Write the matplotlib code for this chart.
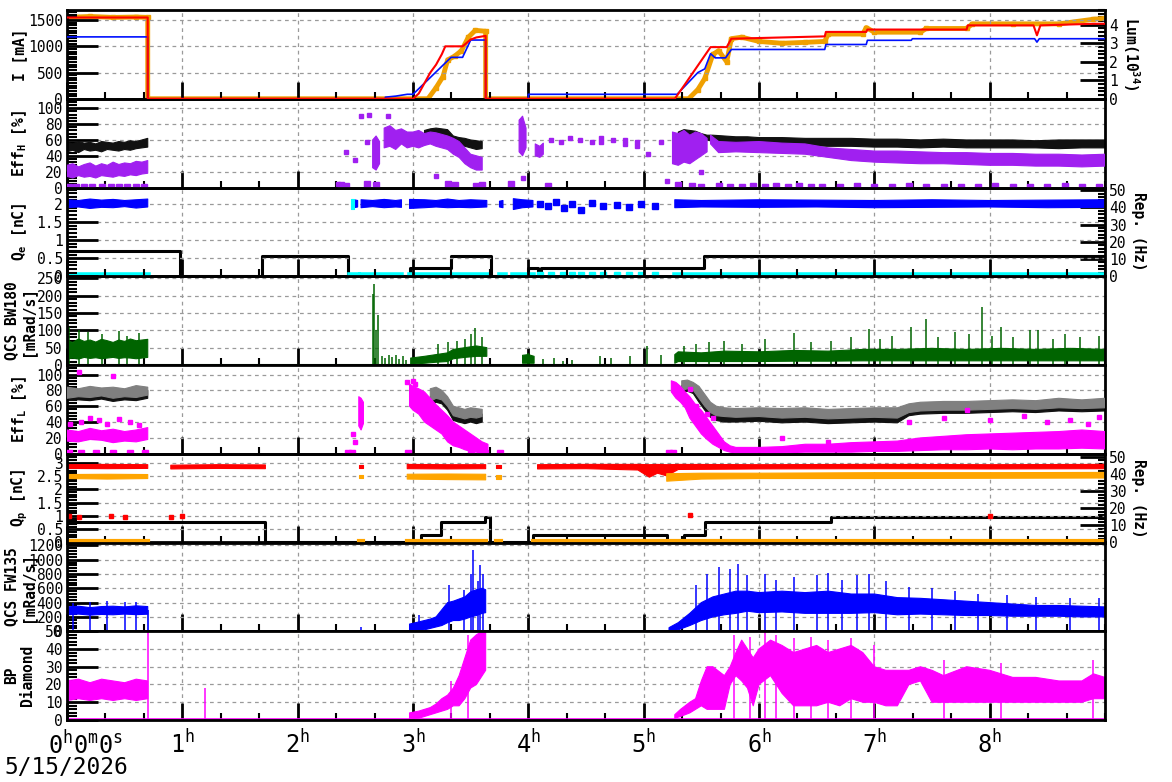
import numpy as np
import matplotlib
matplotlib.use("Agg")
from matplotlib import pyplot as plt
from matplotlib.ticker import AutoMinorLocator, MultipleLocator

nan = np.nan

plt.rcParams['font.family'] = 'DejaVu Sans Mono'
plt.rcParams['mathtext.fontset'] = 'custom'
plt.rcParams['mathtext.rm'] = 'DejaVu Sans Mono'
plt.rcParams['mathtext.it'] = 'DejaVu Sans Mono'
plt.rcParams['mathtext.bf'] = 'DejaVu Sans Mono:bold'

# ---------------- data (time in hours) ----------------
# panel 1 : beam currents [mA] and luminosity [1e34]
ler_t = [0, 0.70, 0.70, 3.0, 3.05, 3.1, 3.15, 3.2, 3.25, 3.28, 3.43, 3.5, 3.55, 3.63, 3.63,
         5.27, 5.35, 5.45, 5.58, 5.72, 5.76, 6.57, 6.58, 6.93, 6.94, 7.8, 7.81, 8.38, 8.41, 8.44, 8.9, 9.0]
ler_v = [1550, 1550, 0, 0, 100, 300, 500, 650, 850, 1000, 1000, 1130, 1170, 1200, 0,
         0, 250, 570, 985, 985, 1145, 1190, 1275, 1275, 1320, 1320, 1400, 1400, 1210, 1400, 1430, 1430]
her_t = [0, 0.70, 0.70, 2.76, 2.76, 2.85, 2.95, 3.0, 3.33, 3.43, 3.5, 3.63, 3.63, 4.0, 4.0,
         5.29, 5.47, 5.53, 5.58, 5.62, 5.71, 5.76, 6.57, 6.58, 6.93, 6.94, 7.32, 7.33, 8.39, 8.41, 8.43, 9.0]
her_v = [1180, 1180, 0, 0, 30, 50, 85, 85, 790, 790, 1120, 1120, 0, 0, 85,
         85, 500, 570, 860, 780, 780, 940, 940, 1035, 1035, 1115, 1115, 1145, 1145, 1080, 1145, 1145]
lum_t = [0, 0.2, 0.4, 0.6, 0.70, 0.70, 3.13, 3.2, 3.26, 3.3, 3.36, 3.42, 3.48, 3.54, 3.63, 3.63,
         5.39, 5.47, 5.53, 5.6, 5.65, 5.72, 5.76, 5.85, 6.0, 6.2, 6.4, 6.57, 6.6, 6.9, 6.93, 7.0,
         7.4, 7.45, 7.8, 7.85, 8.2, 8.6, 8.9, 9.0]
lum_v = [4.4, 4.45, 4.4, 4.42, 4.4, 0, 0, 0.6, 1.2, 2.1, 2.3, 2.6, 3.33, 3.7, 3.65, 0,
         0, 0.5, 1.1, 2.4, 2.6, 2.0, 3.25, 3.33, 3.1, 3.0, 3.05, 3.1, 3.5, 3.5, 3.85, 3.6,
         3.6, 3.8, 3.8, 4.05, 4.05, 4.05, 4.3, 4.35]

# panel 2 : Eff_H [%]
effh_blk_t = [0, 0.05, 0.1, 0.15, 0.2, 0.25, 0.3, 0.35, 0.4, 0.45, 0.5, 0.55, 0.6, 0.65, 0.7, nan,
              3.1, 3.15, 3.2, 3.25, 3.3, 3.35, 3.4, 3.45, 3.5, 3.55, 3.6, nan,
              5.3, 5.35, 5.4, 5.45, 5.5, 5.55, 5.6, 5.7, 5.8, 5.9, 6.0,
              6.2, 6.4, 6.6, 6.8, 7.0, 7.2, 7.4, 7.6, 7.8, 8.0, 8.2, 8.4, 8.6, 8.8, 9.0]
effh_blk_lo = [45, 47, 44, 48, 46, 47, 45, 48, 47, 46, 48, 47, 49, 50, 51, nan,
               62, 64, 65, 63, 62, 55, 53, 52, 50, 48, 49, nan,
               62, 65, 64, 66, 62, 60, 58, 56, 55, 56, 55,
               54, 53, 52, 52, 51, 51, 50, 51, 50, 50, 50, 50, 49, 50, 50]
effh_blk_hi = [57, 55, 58, 56, 57, 55, 58, 57, 56, 58, 57, 59, 58, 60, 62, nan,
               72, 74, 75, 74, 73, 65, 63, 62, 60, 59, 58, nan,
               70, 73, 72, 71, 68, 66, 66, 65, 64, 64, 63,
               63, 62, 62, 62, 61, 61, 60, 61, 60, 60, 60, 59, 60, 60, 60]
effh_pur_t = [0, 0.05, 0.1, 0.15, 0.2, 0.25, 0.3, 0.35, 0.4, 0.45, 0.5, 0.55, 0.6, 0.65, 0.7, nan,
              2.65, 2.68, 2.71, nan,
              2.75, 2.8, 2.85, 2.9, 2.95, 3.0, 3.05, 3.1, 3.15, 3.2, 3.25, 3.3, 3.35, 3.4, 3.45, 3.5, 3.55, 3.6, nan,
              3.92, 3.95, 3.98, nan, 4.06, 4.1, 4.13, nan,
              5.25, 5.3, 5.35, 5.4, 5.45, 5.5, 5.55, nan,
              5.58, 5.65, 5.8, 6.0, 6.2, 6.4, 6.6, 6.8, 7.0, 7.2, 7.4, 7.6, 7.8, 8.0, 8.2, 8.4, 8.6, 8.8, 9.0]
effh_pur_lo = [14, 12, 15, 13, 14, 12, 15, 14, 13, 15, 14, 16, 15, 17, 18, nan,
               25, 22, 30, nan,
               50, 52, 48, 55, 50, 52, 50, 53, 55, 52, 50, 48, 42, 38, 30, 25, 22, 22, nan,
               45, 40, 50, nan, 40, 38, 42, nan,
               30, 28, 32, 30, 35, 40, 45, nan,
               55, 44, 45, 44, 43, 42, 38, 34, 32, 31, 30, 30, 29, 28, 28, 27, 27, 26, 27]
effh_pur_hi = [28, 30, 26, 29, 31, 27, 30, 28, 32, 29, 31, 30, 33, 32, 34, nan,
               60, 65, 58, nan,
               75, 78, 72, 74, 70, 70, 72, 68, 70, 69, 67, 65, 62, 58, 50, 42, 40, 38, nan,
               85, 90, 75, nan, 55, 52, 56, nan,
               70, 68, 72, 66, 70, 68, 62, nan,
               66, 58, 57, 58, 56, 55, 50, 48, 46, 46, 45, 44, 44, 43, 43, 42, 42, 41, 42]
effh_pts_t = [2.35, 2.42, 2.5, 2.55, 2.6, 2.62, 2.78, 4.2, 4.28, 4.36, 4.45, 4.55, 4.63, 4.73,
              4.84, 4.94, 5.04, 5.15, 3.2, 3.95, 5.5, 5.2, 4.63, 4.84, 4.94]
effh_pts_v = [5, 45, 35, 90, 58, 92, 90, 60, 58, 62, 60, 58, 62, 60,
              60, 58, 42, 58, 14, 12, 20, 8, 57, 55, 52]
effh_low_t = [0.02, 0.08, 0.15, 0.22, 0.3, 0.38, 0.45, 0.52, 0.6, 0.67, 2.38, 2.42, 2.6, 2.68,
              3.3, 3.33, 3.36, 3.55, 3.6, 3.85, 4.17, 5.3, 5.42, 5.5, 5.65, 5.75, 5.85, 5.95,
              6.05, 6.15, 6.25, 6.35, 6.45, 6.55, 6.7, 6.85, 7.0, 7.15, 7.3, 7.45, 7.6, 7.75,
              7.9, 8.05, 8.2, 8.35, 8.5, 8.65, 8.8, 8.95]
effh_low_v = [1, 1, 1, 1, 1, 1, 1, 1, 1, 1, 3, 2, 4, 3,
              4, 2, 3, 2, 3, 4, 2, 3, 2, 1, 2, 1, 1, 2,
              1, 2, 1, 2, 1, 1, 1, 2, 1, 1, 2, 1, 1, 1,
              1, 2, 1, 1, 1, 2, 1, 1]

# panel 3 : Q_e [nC] and rep. rate [Hz]
qe_t = [0, 0.1, 0.2, 0.3, 0.4, 0.5, 0.6, 0.7, nan, 2.49, 2.52, nan,
        2.55, 2.65, 2.75, 2.85, 2.9, nan, 2.97, 3.1, 3.2, 3.3, 3.4, 3.5, 3.64, nan,
        3.75, 3.78, nan, 3.87, 3.95, 4.04, nan,
        5.27, 5.5, 6.0, 6.5, 7.0, 7.5, 8.0, 8.5, 9.0]
qe_lo = [1.9, 1.92, 1.88, 1.91, 1.9, 1.93, 1.89, 1.92, nan, 1.9, 1.92, nan,
         1.9, 1.93, 1.9, 1.92, 1.91, nan, 1.88, 1.9, 1.92, 1.9, 1.91, 1.9, 1.92, nan,
         1.92, 1.9, nan, 1.85, 1.9, 1.92, nan,
         1.9, 1.92, 1.91, 1.92, 1.9, 1.91, 1.92, 1.9, 1.91]
qe_hi = [2.12, 2.1, 2.14, 2.11, 2.13, 2.1, 2.12, 2.14, nan, 2.12, 2.1, nan,
         2.12, 2.1, 2.13, 2.1, 2.12, nan, 2.13, 2.12, 2.1, 2.14, 2.1, 2.12, 2.1, nan,
         2.08, 2.1, nan, 2.15, 2.12, 2.1, nan,
         2.12, 2.1, 2.12, 2.11, 2.1, 2.12, 2.1, 2.11, 2.12]
qe_pts_t = [4.1, 4.17, 4.24, 4.31, 4.38, 4.46, 4.55, 4.65, 4.77, 4.87, 4.98, 5.1]
qe_pts_v = [2.0, 1.95, 2.05, 1.9, 2.0, 1.85, 2.02, 1.95, 1.98, 1.92, 2.0, 1.96]
qe_cyan_t = [2.46, 2.49]
qe_cyan_lo = [1.87, 1.87]
qe_cyan_hi = [2.15, 2.15]
cyan_t = [0, 0.7, nan, 2.45, 2.52, nan, 2.55, 2.9, nan, 2.97, 3.64, nan, 3.75, 3.8, nan,
          3.87, 4.04, nan, 5.27, 9.0]
cyan_v = [0.9, 0.9, nan, 0.9, 0.9, nan, 0.9, 0.9, nan, 0.9, 0.9, nan, 0.9, 0.9, nan,
          0.9, 0.9, nan, 0.9, 0.9]
cyan_pts_t = [4.1, 4.2, 4.3, 4.38, 4.46, 4.55, 4.65, 4.77, 4.87, 4.98, 5.1]
cyan_pts_v = [0.9, 0.9, 0.9, 0.9, 0.9, 0.9, 0.9, 0.9, 0.9, 0.9, 0.9]
rep_e_t = [0, 0.98, 0.98, 1.69, 1.69, 2.44, 2.44, 2.97, 2.97, 3.33, 3.33, 3.68, 3.68,
           4.0, 4.0, 4.08, 4.08, 4.11, 4.11, 5.52, 5.52, 9.0]
rep_e_v = [14.5, 14.5, 0.4, 0.4, 11.6, 11.6, 0.4, 0.4, 4.6, 4.6, 12, 12, 0.4,
           0.4, 4.6, 4.6, 0.4, 0.4, 4.6, 4.6, 12, 12]

# panel 4 : QCS BW180 [mRad/s]
bw_t = [0, 0.05, 0.1, 0.15, 0.2, 0.25, 0.3, 0.35, 0.4, 0.45, 0.5, 0.55, 0.6, 0.65, 0.7, nan,
        2.98, 3.1, 3.2, 3.3, 3.35, 3.45, 3.55, 3.64, nan, 3.95, 4.0, 4.05, nan,
        5.27, 5.3, 5.5, 5.7, 6.0, 6.3, 6.6, 6.9, 7.2, 7.5, 7.8, 8.1, 8.4, 8.7, 9.0]
bw_lo = [18, 20, 17, 22, 19, 21, 18, 20, 22, 19, 21, 20, 18, 20, 22, nan,
         2, 5, 8, 10, 18, 22, 25, 25, nan, 5, 5, 5, nan,
         5, 10, 10, 10, 10, 11, 11, 12, 12, 12, 12, 12, 12, 12, 12]
bw_hi = [70, 65, 75, 68, 72, 66, 74, 70, 65, 72, 68, 75, 70, 72, 74, nan,
         20, 25, 30, 35, 45, 50, 55, 50, nan, 28, 30, 25, nan,
         30, 38, 35, 40, 38, 42, 40, 45, 45, 48, 45, 48, 45, 48, 45]
bw_spk_t = [0.02, 0.1, 0.18, 0.3, 0.45, 0.52, 0.62,
            2.65, 2.665, 2.68, 2.70, 2.73, 2.76, 2.79, 2.82, 2.85, 2.88, 2.91, 2.94,
            3.22, 3.3, 3.38, 3.45, 3.5, 3.54, 3.6, 4.0,
            4.13, 4.22, 4.3, 4.38, 4.62, 4.72, 4.88, 5.03, 5.15,
            5.35, 5.45, 5.57, 5.7, 5.85, 6.05, 6.3, 6.45, 6.62, 6.8, 6.95, 7.05, 7.15,
            7.32, 7.45, 7.55, 7.7, 7.82, 7.93, 8.02, 8.1, 8.2, 8.35, 8.42, 8.55, 8.65,
            8.78, 8.95]
bw_spk_v = [110, 100, 95, 90, 98, 85, 92,
            205, 235, 100, 145, 25, 20, 28, 22, 30, 18, 25, 15,
            60, 65, 70, 75, 90, 108, 80, 35,
            18, 20, 12, 15, 25, 20, 25, 55, 30,
            55, 60, 65, 70, 60, 75, 93, 65, 70, 80, 103, 75, 85,
            110, 132, 80, 95, 90, 166, 85, 110, 80, 100, 100, 75, 90,
            80, 85]

# panel 5 : Eff_L [%]
effl_t = [0, 0.1, 0.2, 0.3, 0.4, 0.5, 0.6, 0.7, nan,
          3.15, 3.2, 3.25, 3.3, 3.35, 3.4, 3.45, 3.5, 3.55, 3.6, nan,
          5.33, 5.38, 5.43, 5.48, 5.53, 5.58, 5.63, 5.7, 5.8, 6.0,
          6.2, 6.4, 6.6, 6.8, 7.0, 7.2, 7.3, 7.4, 7.6, 7.8, 8.0, 8.2, 8.4, 8.6, 8.8, 9.0]
effl_gry_lo = [70, 72, 71, 73, 70, 72, 71, 74, nan,
               66, 70, 68, 60, 48, 46, 44, 46, 45, 47, nan,
               80, 82, 80, 70, 60, 52, 48, 47, 46, 47,
               45, 46, 44, 45, 46, 45, 52, 54, 55, 55, 56, 57, 56, 58, 57, 58]
effl_gry_hi = [84, 82, 85, 83, 84, 82, 86, 84, nan,
               82, 84, 80, 72, 60, 58, 56, 58, 57, 56, nan,
               92, 93, 90, 85, 75, 65, 60, 58, 57, 58,
               57, 58, 56, 57, 58, 58, 63, 65, 66, 66, 67, 68, 67, 70, 68, 70]
effl_blk_lo = [67, 68, 67, 69, 66, 68, 67, 70, nan,
               62, 65, 63, 55, 42, 40, 38, 40, 38, 40, nan,
               77, 79, 76, 65, 55, 46, 42, 40, 40, 41,
               39, 40, 38, 39, 40, 39, 48, 50, 51, 51, 52, 53, 52, 54, 53, 54]
effl_blk_hi = [76, 78, 77, 79, 76, 78, 77, 80, nan,
               72, 76, 74, 66, 52, 50, 48, 50, 48, 50, nan,
               86, 88, 84, 75, 65, 54, 50, 48, 48, 49,
               47, 48, 46, 47, 48, 47, 56, 58, 59, 59, 60, 61, 60, 62, 61, 62]
effl_mag_t = [0, 0.1, 0.2, 0.3, 0.4, 0.5, 0.6, 0.7, nan, 2.53, 2.55, 2.57, nan,
              2.97, 3.0, 3.05, 3.1, 3.15, 3.2, 3.25, 3.3, 3.35, 3.4, 3.45, 3.5, 3.55, 3.6, 3.65, nan,
              5.24, 5.28, 5.32, 5.36, 5.4, 5.45, 5.5, 5.55, 5.6, 5.65, 5.7, 5.75, 5.8,
              6.0, 6.2, 6.4, 6.6, 6.8, 7.0, 7.2, 7.4, 7.6, 7.8, 8.0, 8.2, 8.4, 8.6, 8.8, 9.0]
effl_mag_lo = [16, 15, 18, 17, 14, 16, 15, 18, nan, 35, 30, 38, nan,
               60, 55, 50, 40, 35, 30, 25, 15, 10, 8, 5, 3, 2, 2, 2, nan,
               78, 70, 65, 58, 45, 35, 25, 18, 12, 8, 4, 2, 1,
               1, 1, 2, 2, 2, 3, 3, 4, 5, 5, 6, 5, 6, 6, 7, 6]
effl_mag_hi = [30, 28, 32, 29, 31, 28, 30, 33, nan, 72, 70, 65, nan,
               88, 85, 82, 78, 70, 62, 55, 48, 40, 35, 30, 25, 20, 15, 12, nan,
               92, 90, 85, 78, 72, 62, 55, 45, 35, 25, 15, 10, 8,
               8, 9, 12, 12, 14, 15, 16, 20, 22, 24, 25, 26, 27, 28, 30, 28]
effl_pts_t = [0.03, 0.12, 0.2, 0.28, 0.35, 0.45, 0.55, 0.62, 0.1, 0.4, 2.48, 2.5,
              2.95, 3.0, 3.02, 5.4, 5.55, 5.6, 7.3, 7.6, 7.8, 8.0, 8.3, 8.5, 8.7, 8.85,
              6.2, 6.6, 5.45, 8.95]
effl_pts_v = [38, 40, 45, 42, 38, 44, 40, 36, 103, 98, 25, 15,
              90, 92, 88, 82, 50, 45, 40, 45, 55, 42, 48, 40, 42, 38,
              20, 15, 60, 47]
effl_low_t = [0.02, 0.12, 0.25, 0.4, 0.55, 0.68, 2.44, 2.47, 2.96, 3.5, 3.58, 3.62, 3.75, 5.22, 5.25]
effl_low_v = [1, 1, 1, 1, 1, 1, 1, 1, 1, 1, 1, 1, 1, 1, 1]

# panel 6 : Q_p [nC] and rep. rate [Hz]
qp_red_t = [0, 0.35, 0.7, nan, 0.9, 1.3, 1.72, nan, 2.53, 2.57, nan, 2.95, 3.3, 3.63, nan,
            3.72, 3.76, nan, 4.08, 4.5, 4.95, 5.05, 5.12, 5.2, 5.3, 6.0, 7.0, 8.0, 9.0]
qp_red_lo = [2.78, 2.77, 2.78, nan, 2.76, 2.78, 2.77, nan, 2.78, 2.78, nan, 2.77, 2.76, 2.77, nan,
             2.78, 2.78, nan, 2.76, 2.77, 2.72, 2.45, 2.6, 2.5, 2.74, 2.76, 2.77, 2.76, 2.77]
qp_red_hi = [2.92, 2.93, 2.92, nan, 2.9, 2.92, 2.91, nan, 2.92, 2.92, nan, 2.93, 2.92, 2.92, nan,
             2.9, 2.9, nan, 2.92, 2.93, 2.93, 2.92, 2.93, 2.92, 2.93, 2.92, 2.93, 2.92, 2.93]
qp_org_t = [0, 0.35, 0.7, nan, 2.53, 2.57, nan, 2.95, 3.3, 3.63, nan, 3.72, 3.76, nan,
            5.2, 5.5, 6.0, 7.0, 8.0, 9.0]
qp_org_lo = [2.4, 2.38, 2.4, nan, 2.42, 2.42, nan, 2.38, 2.36, 2.35, nan, 2.4, 2.4, nan,
             2.3, 2.38, 2.4, 2.4, 2.41, 2.42]
qp_org_hi = [2.55, 2.56, 2.55, nan, 2.55, 2.55, nan, 2.56, 2.57, 2.56, nan, 2.52, 2.52, nan,
             2.58, 2.6, 2.6, 2.62, 2.62, 2.63]
qp_org0_t = [0, 0.7, nan, 2.53, 2.57, nan, 2.95, 3.63, nan, 3.72, 3.76, nan, 4.04, 9.0]
qp_org0_v = [0.05, 0.05, nan, 0.05, 0.05, nan, 0.05, 0.05, nan, 0.05, 0.05, nan, 0.05, 0.05]
qp_dot_t = [0.02, 0.1, 0.38, 0.5, 0.9, 1.0, 5.4, 8.0]
qp_dot_v = [1.0, 0.95, 1.0, 0.95, 0.95, 1.0, 1.02, 1.0]
rep_p_t = [0, 1.72, 1.72, 3.07, 3.07, 3.24, 3.24, 3.62, 3.62, 3.67, 3.67, 4.04, 4.04,
           5.2, 5.2, 5.35, 5.35, 5.53, 5.53, 6.62, 6.62, 9.0]
rep_p_v = [12, 12, 0.3, 0.3, 4.3, 4.3, 12, 12, 15, 15, 0.3, 0.3, 4.3,
           4.3, 0.3, 0.3, 4.3, 4.3, 12, 12, 15, 15]

# panel 7 : QCS FW135 [mRad/s]
fw_t = [0, 0.1, 0.2, 0.3, 0.4, 0.5, 0.6, 0.7, nan,
        2.97, 3.05, 3.1, 3.15, 3.2, 3.25, 3.3, 3.35, 3.4, 3.45, 3.5, 3.55, 3.6, 3.63, nan,
        5.22, 5.3, 5.4, 5.5, 5.6, 5.7, 5.8, 5.9, 6.0,
        6.2, 6.4, 6.6, 6.8, 7.0, 7.2, 7.4, 7.6, 7.8, 8.0, 8.2, 8.4, 8.6, 8.8, 9.0]
fw_lo = [230, 240, 225, 235, 230, 240, 232, 238, nan,
         0, 10, 20, 40, 60, 80, 120, 150, 150, 170, 200, 220, 250, 260, nan,
         0, 20, 80, 150, 200, 230, 250, 280, 260,
         270, 250, 250, 250, 260, 230, 240, 230, 220, 220, 210, 210, 210, 200, 200]
fw_hi = [340, 350, 330, 345, 350, 340, 355, 345, nan,
         100, 130, 150, 170, 200, 300, 400, 420, 450, 480, 550, 580, 600, 580, nan,
         50, 120, 250, 400, 480, 520, 560, 560, 540,
         560, 540, 560, 520, 520, 470, 460, 440, 420, 400, 380, 360, 360, 350, 340]
fw_spk_t = [0.05, 0.2, 0.35, 0.5, 0.6, 2.55, 3.05, 3.31, 3.44, 3.5, 3.52, 3.56, 3.58, 3.61,
            5.45, 5.55, 5.65, 5.75, 5.82, 5.9, 6.05, 6.15, 6.3, 6.5, 6.6, 6.72, 6.85, 6.95,
            7.1, 7.3, 7.5, 7.7, 7.9, 8.15, 8.4, 8.7, 8.95]
fw_spk_v = [400, 410, 420, 405, 415, 60, 230, 650, 580, 800, 1140, 700, 930, 800,
            650, 800, 900, 870, 945, 780, 800, 720, 760, 780, 820, 720, 780, 800,
            700, 620, 600, 560, 520, 500, 480, 470, 460]

# panel 8 : BP Diamond
bp_t = [0, 0.1, 0.2, 0.3, 0.4, 0.5, 0.6, 0.7, nan,
        2.97, 3.05, 3.1, 3.15, 3.2, 3.25, 3.3, 3.35, 3.4, 3.45, 3.5, 3.55, 3.6, 3.63, nan,
        5.27, 5.32, 5.4, 5.45, 5.5, 5.55, 5.6, 5.7, 5.75, 5.8, 5.85, 5.9, 5.95, 6.0,
        6.1, 6.2, 6.3, 6.4, 6.5, 6.6, 6.7, 6.8, 6.9, 7.0, 7.1, 7.2, 7.3, 7.4, 7.5, 7.6,
        7.8, 8.0, 8.2, 8.4, 8.6, 8.8, 8.9, 9.0]
bp_lo = [11, 12, 11, 12, 11, 12, 11, 12, nan,
         0.5, 1, 2, 3, 4, 5, 6, 8, 8, 12, 18, 20, 25, 28, nan,
         1, 2, 4, 6, 8, 6, 6, 6, 20, 25, 22, 18, 8, 20,
         25, 15, 8, 8, 8, 10, 8, 12, 10, 10, 8, 8, 20, 22, 10, 10,
         10, 10, 10, 10, 10, 10, 12, 12]
bp_hi = [22, 23, 21, 23, 22, 21, 23, 22, nan,
         4, 5, 6, 7, 9, 12, 14, 18, 25, 35, 45, 48, 50, 50, nan,
         3, 6, 10, 12, 22, 30, 30, 25, 30, 38, 45, 40, 35, 40,
         45, 42, 38, 40, 42, 38, 40, 42, 38, 30, 28, 28, 28, 30, 28, 25,
         30, 28, 24, 24, 22, 22, 26, 24]
bp_spk_t = [0.7, 1.2, 3.33, 3.48, 5.78, 5.92, 6.05, 6.15, 6.3, 6.45, 6.6, 6.8, 7.0, 7.6, 8.1, 8.9]
bp_spk_v = [50, 18, 22, 48, 48, 47, 50, 48, 46, 47, 45, 46, 42, 34, 32, 34]

hour_labels = ['', '$1^{h}$', '$2^{h}$', '$3^{h}$', '$4^{h}$', '$5^{h}$', '$6^{h}$', '$7^{h}$', '$8^{h}$']

# ---------------- figure ----------------
fig = plt.figure(figsize=(11.72, 7.82), dpi=100)
gs = fig.add_gridspec(8, 1, left=67/1172, right=1105/1172, top=1-10/782, bottom=1-720/782, hspace=0)
axs = [fig.add_subplot(gs[i]) for i in range(8)]
for a in axs[1:]:
    a.sharex(axs[0])

GRID = dict(color='#9a9a9a', ls=(0, (3, 3)), lw=0.9)


def style(ax, ylim, ticks, labels, nminor, label, lx=-0.046):
    ax.set_xlim(0, 9.0)
    ax.set_ylim(*ylim)
    ax.set_yticks(ticks)
    ax.set_yticklabels(labels)
    ax.yaxis.set_minor_locator(AutoMinorLocator(nminor))
    ax.xaxis.set_major_locator(MultipleLocator(1))
    ax.xaxis.set_minor_locator(MultipleLocator(1/3))
    ax.tick_params(axis='y', which='major', direction='in', length=22, width=2, labelsize=10.5, pad=3)
    ax.tick_params(axis='y', which='minor', direction='in', length=7, width=1.5)
    ax.tick_params(axis='x', which='major', direction='in', length=12, width=2)
    ax.tick_params(axis='x', which='minor', direction='in', length=5, width=1.5)
    ax.tick_params(axis='x', labelbottom=False)
    for s in ax.spines.values():
        s.set_linewidth(2)
    ax.grid(True, which='major', **GRID)
    ax.set_axisbelow(True)
    ax.set_ylabel(label, fontsize=10.5, fontweight='bold', va='center', linespacing=1.1)
    ax.yaxis.set_label_coords(lx, 0.5)


def twin(ax, ylim, ticks, label, lx):
    tw = ax.twinx()
    tw.set_ylim(*ylim)
    tw.set_yticks(ticks)
    tw.yaxis.set_minor_locator(AutoMinorLocator(5))
    tw.tick_params(axis='y', which='major', direction='in', length=18, width=2, labelsize=10.5, pad=3)
    tw.tick_params(axis='y', which='minor', direction='in', length=5, width=1.5)
    tw.set_ylabel(label, fontsize=10.5, fontweight='bold', rotation=270, va='center')
    tw.yaxis.set_label_coords(lx, 0.5)
    ax.set_zorder(tw.get_zorder() + 1)
    ax.patch.set_visible(False)
    return tw


def band(ax, t, lo, hi, color, z=2):
    ax.fill_between(t, lo, hi, color=color, lw=0.8, edgecolor=color, zorder=z)


# 1: currents + luminosity
ax = axs[0]
style(ax, (0, 1693), [0, 500, 1000, 1500], ['0', '500', '1000', '1500'], 10, 'I [mA]')
tw = twin(ax, (0, 4.8), [0, 1, 2, 3, 4], 'Lum(10$^{\\mathbf{34}}$)', 1.025)
tw.plot(lum_t, lum_v, color='#f0a000', lw=3.5, marker='s', ms=3.5, zorder=2)
ax.plot(her_t, her_v, color='#0010ff', lw=1.2, zorder=3)
ax.plot(ler_t, ler_v, color='#ff0000', lw=1.5, zorder=4)

# 2: Eff_H
ax = axs[1]
style(ax, (0, 112), [0, 20, 40, 60, 80, 100], ['0', '20', '40', '60', '80', '100'], 5,
      'Eff$_{\\mathbf{H}}$ [%]')
band(ax, effh_blk_t, effh_blk_lo, effh_blk_hi, '#111111')
band(ax, effh_pur_t, effh_pur_lo, effh_pur_hi, '#a020f0', 3)
ax.plot(effh_pts_t, effh_pts_v, 's', color='#a020f0', ms=3.5, zorder=3)
ax.plot(effh_low_t, effh_low_v, 's', color='#a020f0', ms=4, zorder=3)

# 3: Q_e
ax = axs[2]
style(ax, (0, 2.46), [0, 0.5, 1, 1.5, 2], ['0', '0.5', '1', '1.5', '2'], 5, 'Q$_{\\mathbf{e}}$ [nC]')
tw = twin(ax, (0, 51.5), [0, 10, 20, 30, 40, 50], 'Rep. (Hz)', 1.032)
tw.plot(rep_e_t, rep_e_v, color='black', lw=2.2, zorder=2)
tw.plot(cyan_t, cyan_v, color='cyan', lw=4, zorder=3)
tw.plot(cyan_pts_t, cyan_pts_v, 's', color='cyan', ms=4, zorder=3)
band(ax, qe_t, qe_lo, qe_hi, '#0000ff')
band(ax, qe_cyan_t, qe_cyan_lo, qe_cyan_hi, 'cyan')
ax.plot(qe_pts_t, qe_pts_v, 's', color='#0000ff', ms=4)

# 4: QCS BW180
ax = axs[3]
style(ax, (0, 256), [0, 50, 100, 150, 200, 250], ['0', '50', '100', '150', '200', '250'], 5,
      'QCS BW180\n[mRad/s]')
ax.plot([0, 9], [0.8, 0.8], color='#006400', lw=1.5, zorder=2)
band(ax, bw_t, bw_lo, bw_hi, '#006400')
ax.vlines(bw_spk_t, 0, bw_spk_v, color='#006400', lw=1.1, zorder=2)

# 5: Eff_L
ax = axs[4]
style(ax, (0, 112), [0, 20, 40, 60, 80, 100], ['0', '20', '40', '60', '80', '100'], 5,
      'Eff$_{\\mathbf{L}}$ [%]')
band(ax, effl_t, effl_blk_lo, effl_blk_hi, '#111111')
band(ax, effl_t, effl_gry_lo, effl_gry_hi, '#808080', 3)
band(ax, effl_mag_t, effl_mag_lo, effl_mag_hi, '#ff00ff', 4)
ax.plot(effl_pts_t, effl_pts_v, 's', color='#ff00ff', ms=3.5, zorder=4)
ax.plot(effl_low_t, effl_low_v, 's', color='#ff00ff', ms=4, zorder=4)

# 6: Q_p
ax = axs[5]
style(ax, (0, 3.33), [0, 0.5, 1, 1.5, 2, 2.5, 3], ['0', '0.5', '1', '1.5', '2', '2.5', '3'], 5,
      'Q$_{\\mathbf{p}}$ [nC]')
tw = twin(ax, (0, 51.8), [0, 10, 20, 30, 40, 50], 'Rep. (Hz)', 1.032)
tw.plot(rep_p_t, rep_p_v, color='black', lw=2.2, zorder=2)
band(ax, qp_red_t, qp_red_lo, qp_red_hi, '#ff0000')
band(ax, qp_org_t, qp_org_lo, qp_org_hi, '#ffa500')
ax.plot(qp_org0_t, qp_org0_v, color='#ffa500', lw=3)
ax.plot(qp_dot_t, qp_dot_v, 's', color='#ff0000', ms=2.5)

# 7: QCS FW135
ax = axs[6]
style(ax, (0, 1240), [0, 200, 400, 600, 800, 1000, 1200],
      ['0', '200', '400', '600', '800', '1000', '1200'], 5, 'QCS FW135\n[mRad/s]')
ax.plot([0, 9], [3, 3], color='#0000ff', lw=1.2, zorder=2)
ax.vlines([0.7], 0, 300, color='#0000ff', lw=1.2)
band(ax, fw_t, fw_lo, fw_hi, '#0000ff')
ax.vlines(fw_spk_t, 0, fw_spk_v, color='#0000ff', lw=1.1, zorder=2)

# 8: BP Diamond
ax = axs[7]
style(ax, (0, 50), [0, 10, 20, 30, 40, 50], ['0', '10', '20', '30', '40', '50'], 5, 'BP\nDiamond')
ax.plot([0, 9], [0.4, 0.4], color='#ff00ff', lw=1.2, zorder=2)
band(ax, bp_t, bp_lo, bp_hi, '#ff00ff')
ax.vlines(bp_spk_t, 0, bp_spk_v, color='#ff00ff', lw=1.1, zorder=2)

ax.tick_params(axis='x', labelbottom=True, labelsize=17, pad=7)
ax.set_xticks(range(9))
ax.set_xticklabels(hour_labels)

fig.text(48/1172, 1-745/782, '$0^{h}0^{m}0^{s}$', fontsize=17, ha='left', va='center')
fig.text(4/1172, 1-768/782, '5/15/2026', fontsize=16.5, ha='left', va='center')

fig.savefig('out.png', dpi=100)
